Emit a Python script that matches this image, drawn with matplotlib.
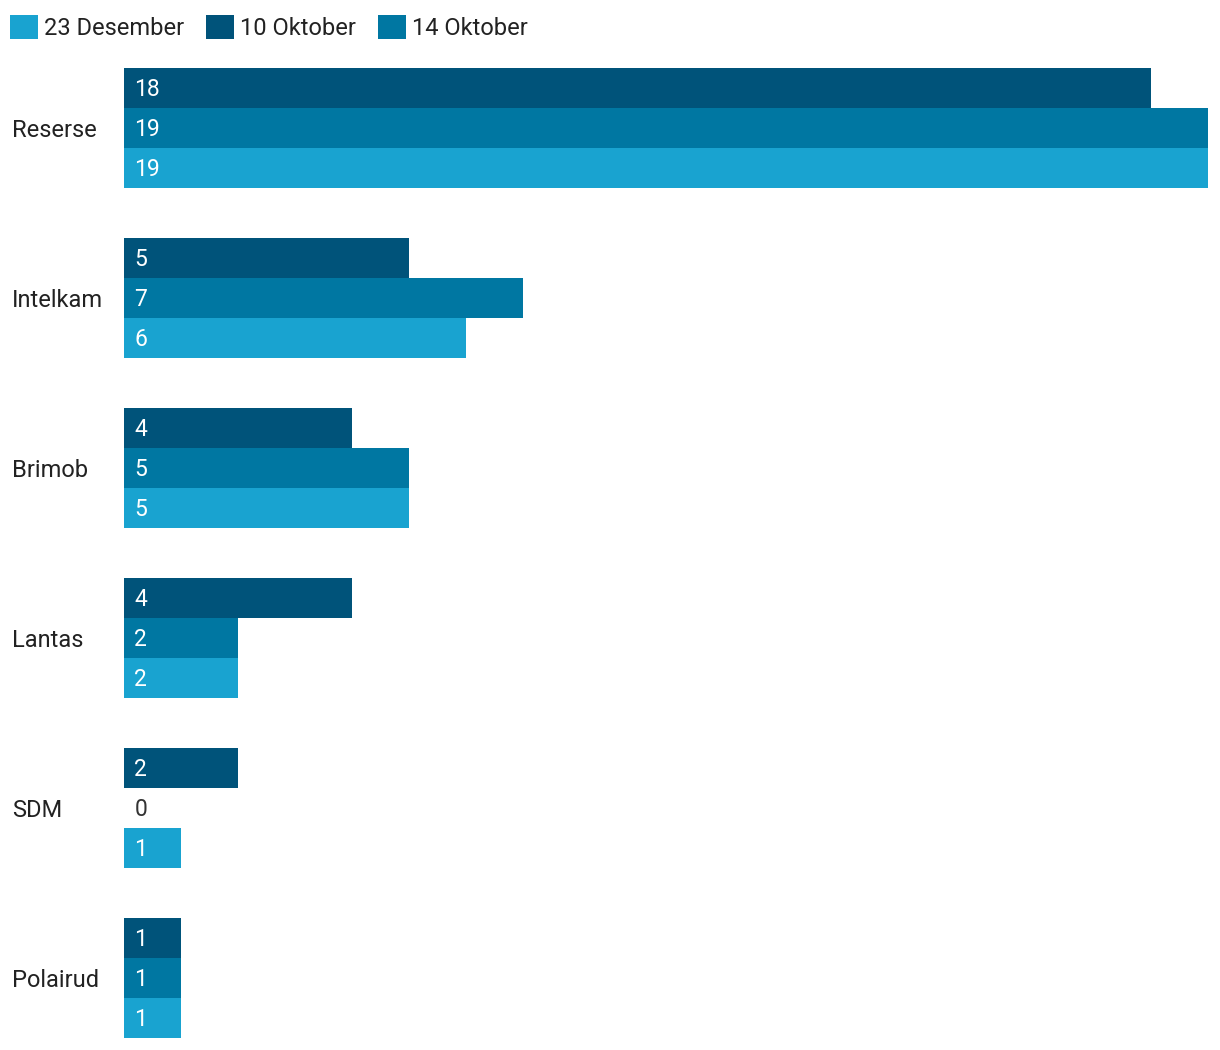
import matplotlib.pyplot as plt
import numpy as np

plt.rcParams['font.family'] = ['Roboto', 'DejaVu Sans']

categories = ['Reserse', 'Intelkam', 'Brimob', 'Lantas', 'SDM', 'Polairud']
okt10 = [18, 5, 4, 4, 2, 1]
okt14 = [19, 7, 5, 2, 0, 1]
des23 = [19, 6, 5, 2, 1, 1]

c_dark = '#00537a'
c_mid = '#0077a2'
c_light = '#19a3d0'

fig = plt.figure(figsize=(12.2, 10.5), dpi=100)
ax = fig.add_axes([124/1220, 12/1050, (1208-124)/1220, (1038-68)/1050])

h = 40/170
y = np.arange(len(categories))
series = [(okt10, -h, c_dark, '10 Oktober'),
          (okt14, 0, c_mid, '14 Oktober'),
          (des23, h, c_light, '23 Desember')]
handles = {}
for vals, off, col, name in series:
    bars = ax.barh(y + off, vals, height=h, color=col, label=name)
    handles[name] = bars
    for yy, v in zip(y + off, vals):
        ax.text(0.18, yy - 0.005, str(v), va='center_baseline', ha='left', fontsize=16.5,
                color='white' if v > 0 else '#333333')

ax.set_xlim(0, 19)
ax.set_ylim(len(categories) - 1 + 1.5*h, -1.5*h)
ax.set_yticks(y)
ax.set_yticklabels(categories, fontsize=17, color='#222222', va='center_baseline')
ax.tick_params(axis='y', length=0, pad=112/1.389)
for lbl in ax.get_yticklabels():
    lbl.set_horizontalalignment('left')
ax.set_xticks([])
for s in ax.spines.values():
    s.set_visible(False)

order = ['23 Desember', '10 Oktober', '14 Oktober']
fig.legend([handles[n] for n in order], order, loc='upper left',
           bbox_to_anchor=(10/1220, 1 - 15/1050), ncol=3, frameon=False, fontsize=17,
           handlelength=1.19, handleheight=1.19, handletextpad=0.25,
           columnspacing=0.93, borderaxespad=0, borderpad=0, labelcolor='#222222')

fig.savefig('out.png', dpi=100)
